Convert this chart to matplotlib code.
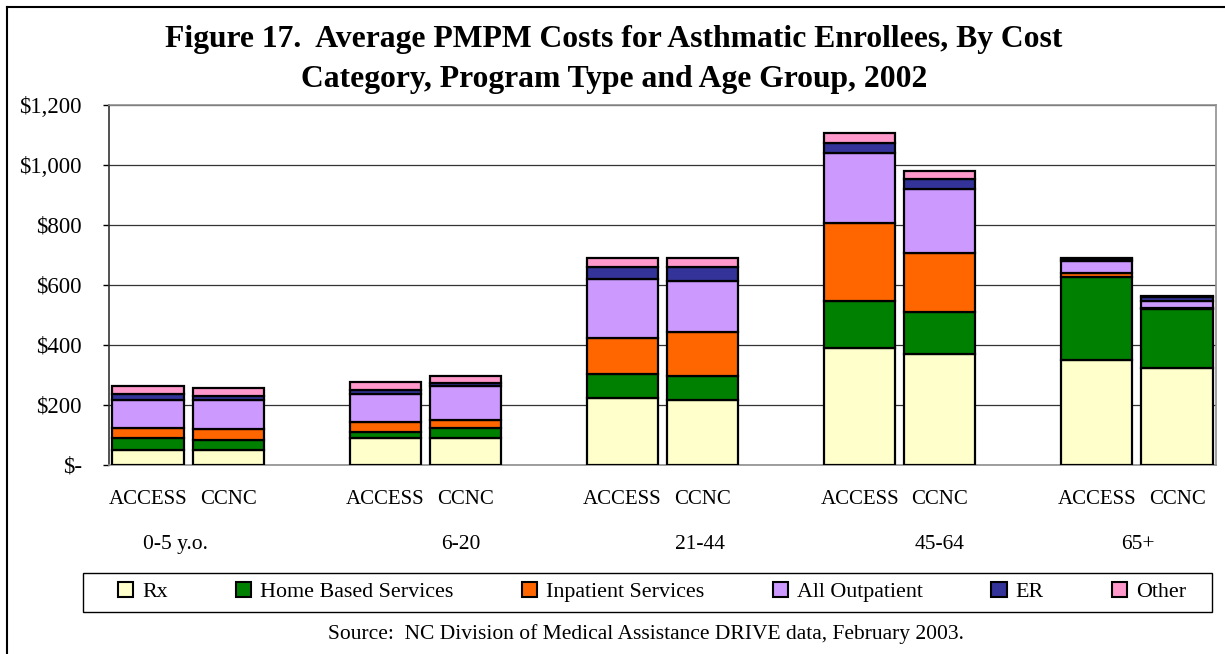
import numpy as np
import matplotlib
matplotlib.use("Agg")
import matplotlib.pyplot as plt
from matplotlib.lines import Line2D
from matplotlib.patches import Rectangle

plt.rcParams['font.family'] = ['Liberation Serif', 'DejaVu Serif']

age_groups = ["0-5 y.o.", "6-20", "21-44", "45-64", "65+"]
programs = ["ACCESS", "CCNC"]
categories = ["Rx", "Home Based Services", "Inpatient Services", "All Outpatient", "ER", "Other"]
colors = ["#FFFFCC", "#008000", "#FF6600", "#CC99FF", "#333399", "#FF99CC"]

# values per age group, $ PMPM
access_rx = [50, 90, 224, 390, 350]
access_home = [40, 20, 79, 158, 278]
access_inpt = [33, 33, 119, 260, 11]
access_outpt = [94, 94, 198, 231, 41]
access_er = [20, 13, 41, 33, 5]
access_other = [26, 27, 28, 34, 4]

ccnc_rx = [50, 90, 217, 370, 324]
ccnc_home = [33, 33, 80, 139, 196]
ccnc_inpt = [37, 27, 145, 198, 2]
ccnc_outpt = [97, 113, 172, 213, 25]
ccnc_er = [13, 10, 47, 32, 12]
ccnc_other = [27, 24, 28, 27, 4]

access = [access_rx, access_home, access_inpt, access_outpt, access_er, access_other]
ccnc = [ccnc_rx, ccnc_home, ccnc_inpt, ccnc_outpt, ccnc_er, ccnc_other]

fig = plt.figure(figsize=(12.25, 6.54), dpi=100)
ax = fig.add_axes([109/1225, 1 - 465/654, (1216-109)/1225, (465-105)/654])

x = np.arange(len(age_groups))
off = 0.169
w = 0.30
for prog, data, dx in [("ACCESS", access, -off), ("CCNC", ccnc, off)]:
    bottom = np.zeros(len(age_groups))
    for cat, vals, c in zip(categories, data, colors):
        ax.bar(x + dx, vals, w, bottom=bottom, color=c, edgecolor='black',
               linewidth=1.6, label=cat if prog == "ACCESS" else None, zorder=3)
        bottom += np.array(vals)

ax.set_ylim(0, 1200)
ax.set_xlim(-79/237, 4 + 79/237)
ax.set_yticks(range(0, 1201, 200))
ax.set_yticklabels(["$-" if v == 0 else "${:,}".format(v) for v in range(0, 1201, 200)], fontsize=16.5)
ax.yaxis.grid(True, color='#333333', linewidth=0.9, zorder=0)
ax.tick_params(axis='y', direction='out', length=4.5, width=1, pad=15)

pos = np.concatenate([x - off, x + off])
pos.sort()
ax.set_xticks(pos)
ax.set_xticklabels(programs * len(age_groups), fontsize=15)
ax.tick_params(axis='x', length=0, pad=18)

# Excel placed the age labels a little off-centre
age_dx = [-0.055, 0.15, 0.16, 0.17, 0.005]
for i, g in enumerate(age_groups):
    ax.text(i + age_dx[i], -0.222, g, transform=ax.get_xaxis_transform(),
            ha='center', va='center', fontsize=15.5)

for s in ['top', 'right', 'bottom']:
    ax.spines[s].set_color('#909090')
    ax.spines[s].set_linewidth(1.2)
ax.spines['left'].set_color('#333333')
ax.spines['left'].set_linewidth(1.2)

leg = ax.legend(loc='center', bbox_to_anchor=(652/1225, 1 - 592/654), bbox_transform=fig.transFigure,
                ncol=6, fontsize=15.8, frameon=False,
                handlelength=0.7, handleheight=0.7, handletextpad=0.4, columnspacing=3.12)
for h in leg.legend_handles:
    h.set_linewidth(1.5)
# legend box, wider than the entries as in the original
fig.add_artist(Rectangle((83/1225, 1 - 612/654), (1212-83)/1225, 39/654, transform=fig.transFigure,
                         facecolor='none', edgecolor='black', linewidth=1.0))

fig.text(614/1225, 1 - 40/654, "Figure 17.  Average PMPM Costs for Asthmatic Enrollees, By Cost",
         ha='center', va='center', fontsize=22.8, fontweight='bold')
fig.text(614/1225, 1 - 80/654, "Category, Program Type and Age Group, 2002",
         ha='center', va='center', fontsize=22.8, fontweight='bold')
fig.text(646/1225, 1 - 634/654, "Source:  NC Division of Medical Assistance DRIVE data, February 2003.",
         ha='center', va='center', fontsize=15.5)

# outer frame
fig.add_artist(Line2D([7/1225, 7/1225], [0, 1 - 7/654], color='black', linewidth=1.5, transform=fig.transFigure))
fig.add_artist(Line2D([7/1225, 1], [1 - 7/654, 1 - 7/654], color='black', linewidth=1.5, transform=fig.transFigure))

fig.savefig("out.png", dpi=100)
